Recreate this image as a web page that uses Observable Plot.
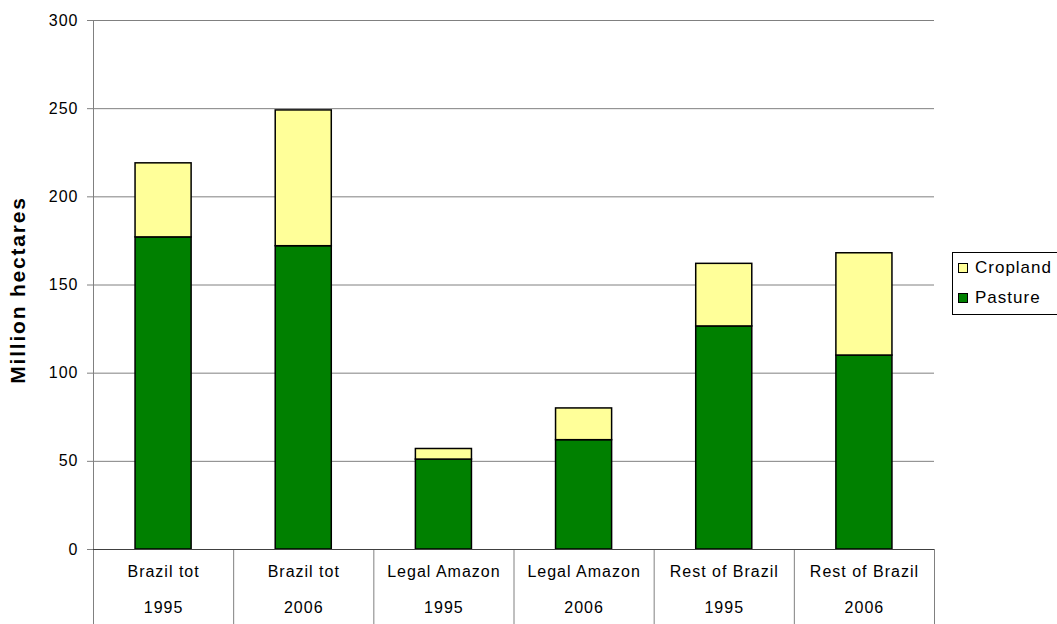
<!DOCTYPE html>
<html>
<head>
<meta charset="utf-8">
<script src="https://cdn.jsdelivr.net/npm/d3@7"></script>
<script src="https://cdn.jsdelivr.net/npm/@observablehq/plot@0.6"></script>
<style>
  html, body { margin: 0; padding: 0; background: #fff; }
  #wrap { position: relative; width: 1057px; height: 624px; overflow: hidden; font-family: "Liberation Sans", Arial, sans-serif; }
  #legend { position: absolute; left: 952px; top: 252px; width: 120px; height: 63px; border: 1px solid #000; box-sizing: border-box; font-size: 17px; letter-spacing: 1px; color: #000; }
  .item { position: absolute; left: 5px; display: flex; align-items: center; line-height: 20px; }
  .sw { width: 8px; height: 8px; border: 1px solid #000; margin-right: 7px; }
</style>
</head>
<body>
<div id="wrap">
  <div id="chart"></div>
  <div id="legend">
    <div class="item" style="top:5px"><div class="sw" style="background:#FFFF99"></div>Cropland</div>
    <div class="item" style="top:35px"><div class="sw" style="background:#008000"></div>Pasture</div>
  </div>
</div>
<script>
const regions = ["Brazil tot", "Brazil tot", "Legal Amazon", "Legal Amazon", "Rest of Brazil", "Rest of Brazil"];
const years = ["1995", "2006", "1995", "2006", "1995", "2006"];
const pasture = [177, 172, 51, 62, 126.5, 110];
const cropland = [42, 77, 6, 18, 35.5, 58];
const yTicks = [0, 50, 100, 150, 200, 250, 300];

const rows = [];
regions.forEach((r, i) => {
  rows.push({i, series: "Pasture", y1: 0, y2: pasture[i]});
  rows.push({i, series: "Cropland", y1: pasture[i], y2: pasture[i] + cropland[i]});
});
const cats = regions.map((r, i) => ({i, region: r, year: years[i]}));

const chart = Plot.plot({
  width: 1057,
  height: 624,
  marginLeft: 93,
  marginRight: 123,
  marginTop: 20,
  marginBottom: 75,
  style: {fontFamily: "Liberation Sans, Arial, sans-serif", fontSize: "16px", color: "#000", background: "#fff", letterSpacing: "1px"},
  x: {domain: [0, regions.length], axis: null},
  y: {domain: [0, 300], axis: null},
  color: {domain: ["Cropland", "Pasture"], range: ["#FFFF99", "#008000"]},
  marks: [
    Plot.ruleY(yTicks.slice(1), {stroke: "#808080", strokeWidth: 1}),
    Plot.axisY({ticks: yTicks, tickSize: 6, tickPadding: 9, stroke: "#808080", fill: "#000", fontSize: 16, label: null}),
    Plot.axisX({ticks: d3.range(regions.length + 1), tickSize: 75, tickFormat: () => "", stroke: "#808080", label: null}),
    Plot.ruleX([0], {stroke: "#808080"}),
    Plot.rectY(rows, {x1: d => d.i + 0.3, x2: d => d.i + 0.7, y1: "y1", y2: "y2", fill: "series", stroke: "#000", strokeWidth: 1.5}),
    Plot.ruleY([0], {stroke: "#404040"}),
    Plot.text(cats, {x: d => d.i + 0.5, text: "region", frameAnchor: "bottom", dy: 27, fontSize: 16}),
    Plot.text(cats, {x: d => d.i + 0.5, text: "year", frameAnchor: "bottom", dy: 63, fontSize: 16}),
    Plot.text(["Million hectares"], {frameAnchor: "left", textAnchor: "middle", dx: -75, dy: 5, rotate: -90, fontWeight: "bold", fontSize: 21})
  ]
});
chart.querySelectorAll("text").forEach(t => {
  if (t.textContent === "Million hectares") t.style.letterSpacing = "1.8px";
});
document.getElementById("chart").appendChild(chart);
</script>
</body>
</html>
